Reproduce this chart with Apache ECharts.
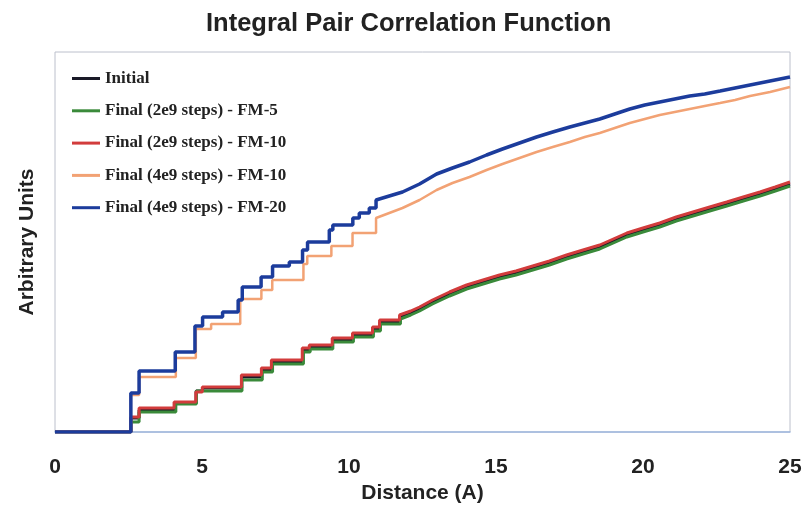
<!DOCTYPE html>
<html>
<head>
<meta charset="utf-8">
<script src="https://cdn.jsdelivr.net/npm/echarts@6/dist/echarts.min.js"></script>
<style>
html,body{margin:0;padding:0;background:#fff;}
#c{width:806px;height:505px;}
</style>
</head>
<body>
<div id="c"></div>
<script>
// ---- data (x = distance, y = arbitrary units) ----
const xTicks = [0, 5, 10, 15, 20, 25];
const seriesNames = [
  'Initial',
  'Final (2e9 steps) - FM-5',
  'Final (2e9 steps) - FM-10',
  'Final (4e9 steps) - FM-10',
  'Final (4e9 steps) - FM-20'
];
// step changes: [distance where value jumps, new value]
const initialSteps = [[2.58,14],[2.86,22],[4.08,29],[4.80,41],[5.02,44],[6.35,55],[7.03,62],[7.38,70],[8.43,82],[8.66,85],[9.44,92],[10.13,97],[10.81,103],[11.05,110],[11.73,115]];
const initialTail = [[12.10,119],[12.40,123],[12.84,130],[13.42,138],[14.0,145],[14.56,150],[15.12,155],[15.68,159],[16.25,164],[16.82,169],[17.40,175],[17.96,180],[18.53,185],[18.99,191],[19.45,197],[20.0,202],[20.57,207],[21.13,213],[21.70,218],[22.27,223],[22.85,228],[23.41,233],[23.98,238],[24.5,243],[25,248]];

const fm5Steps = [[2.58,10],[2.86,20],[4.11,28],[4.81,41],[6.36,52],[7.05,60],[7.40,68],[8.45,80],[8.68,83],[9.45,90],[10.15,95],[10.83,101],[11.07,108],[11.75,113]];
const fm5Tail = [[12.10,117],[12.40,121],[12.84,128],[13.42,136],[14.0,143],[14.56,148],[15.12,153],[15.68,157],[16.25,162],[16.82,167],[17.40,173],[17.96,178],[18.53,183],[18.99,189],[19.45,195],[20.0,200],[20.57,205],[21.13,211],[21.70,216],[22.27,221],[22.85,226],[23.41,231],[23.98,236],[24.5,241],[25,246]];

const fm10aSteps = [[2.58,15],[2.86,24],[4.05,30],[4.79,40],[5.01,45],[6.34,57],[7.02,64],[7.36,72],[8.41,84],[8.65,87],[9.43,94],[10.12,99],[10.80,105],[11.04,112],[11.72,117]];
const fm10aTail = [[12.10,121],[12.40,125],[12.84,132],[13.42,140],[14.0,147],[14.56,152],[15.12,157],[15.68,161],[16.25,166],[16.82,171],[17.40,177],[17.96,182],[18.53,187],[18.99,193],[19.45,199],[20.0,204],[20.57,209],[21.13,215],[21.70,220],[22.27,225],[22.85,230],[23.41,235],[23.98,240],[24.5,245],[25,250]];

const fm10bSteps = [[2.58,37],[2.86,55],[4.11,74],[4.79,103],[5.31,108],[6.30,133],[7.02,142],[7.39,152],[8.45,168],[8.58,176],[9.40,186],[10.12,199],[10.92,214]];
const fm10bTail = [[11.82,224],[12.40,232],[12.98,242],[13.52,249],[14.10,255],[14.68,262],[15.22,268],[15.80,274],[16.38,280],[16.93,285],[17.51,290],[18.02,295],[18.53,299],[19.04,304],[19.55,309],[20.06,313],[20.57,317],[21.08,320],[21.59,323],[22.10,326],[22.62,329],[23.13,332],[23.64,336],[24.32,340],[25,345]];

const fm20Steps = [[2.58,39],[2.86,61],[4.09,80],[4.76,106],[5.02,115],[5.70,120],[6.23,132],[6.37,145],[7.01,155],[7.40,166],[7.97,170],[8.42,182],[8.59,190],[9.33,202],[9.45,207],[10.13,214],[10.35,219],[10.69,224],[10.92,232]];
const fm20Tail = [[11.82,240],[12.40,248],[12.98,258],[13.52,264],[14.10,270],[14.68,277],[15.22,283],[15.80,289],[16.38,295],[16.93,300],[17.51,305],[18.02,309],[18.53,313],[19.04,318],[19.55,323],[20.06,327],[20.57,330],[21.08,333],[21.59,336],[22.10,338],[22.62,341],[23.13,344],[23.64,347],[24.32,351],[25,355]];

const colors = ['#1a1a28', '#3a8a3a', '#d23c3c', '#f2a274', '#1c3c9c'];
const widths = [3, 3, 3, 2.5, 3.5];

function build(steps, tail) {
  const pts = [[0, 0]];
  let prev = 0;
  steps.forEach(function (s) { pts.push([s[0], prev]); pts.push([s[0], s[1]]); prev = s[1]; });
  tail.forEach(function (t) { pts.push(t); });
  return pts;
}
const allData = [
  build(initialSteps, initialTail),
  build(fm5Steps, fm5Tail),
  build(fm10aSteps, fm10aTail),
  build(fm10bSteps, fm10bTail),
  build(fm20Steps, fm20Tail)
];

const chart = echarts.init(document.getElementById('c'), null, {renderer: 'canvas'});
chart.setOption({
  animation: false,
  backgroundColor: '#ffffff',
  title: {
    text: 'Integral Pair Correlation Function',
    left: 206, top: 11, padding: 0,
    textStyle: {fontFamily: 'Liberation Sans, Arial, sans-serif', fontWeight: 'bold', fontSize: 25.5, color: '#222'}
  },
  legend: {
    orient: 'vertical',
    left: 72, top: 70,
    padding: 0,
    itemWidth: 28, itemHeight: 3,
    itemGap: 15.3,
    icon: 'rect',
    textStyle: {fontFamily: 'Liberation Serif, Times New Roman, serif', fontWeight: 'bold', fontSize: 17, lineHeight: 16, color: '#222', padding: [0, 0, 0, 0]},
    data: seriesNames
  },
  grid: {left: 55, right: 16, top: 52, bottom: 73, outerBoundsMode: 'none', containLabel: false, show: true, borderColor: '#bcc0cc', borderWidth: 1, backgroundColor: 'transparent'},
  xAxis: {
    type: 'value', min: 0, max: 25, interval: 5,
    name: 'Distance (A)', nameLocation: 'middle', nameGap: 51,
    nameTextStyle: {fontFamily: 'Liberation Sans, Arial, sans-serif', fontWeight: 'bold', fontSize: 21, color: '#222'},
    axisLine: {show: true, lineStyle: {color: '#9db6de', width: 1.5}},
    axisTick: {show: false},
    splitLine: {show: false},
    axisLabel: {margin: 25, fontFamily: 'Liberation Sans, Arial, sans-serif', fontWeight: 'bold', fontSize: 21, color: '#222',
      formatter: function (v) { return xTicks.indexOf(v) >= 0 ? String(v) : ''; }}
  },
  yAxis: {
    type: 'value', min: 0, max: 380,
    name: 'Arbitrary Units', nameLocation: 'middle', nameGap: 17, nameRotate: 90,
    nameTextStyle: {fontFamily: 'Liberation Sans, Arial, sans-serif', fontWeight: 'bold', fontSize: 21, color: '#222'},
    axisLine: {show: false}, axisTick: {show: false}, axisLabel: {show: false}, splitLine: {show: false}
  },
  series: seriesNames.map(function (n, i) {
    return {
      name: n, type: 'line', data: allData[i], showSymbol: false, symbol: 'none',
      color: colors[i],
      lineStyle: {color: colors[i], width: widths[i]},
      z: 2 + i
    };
  })
});
</script>
</body>
</html>
